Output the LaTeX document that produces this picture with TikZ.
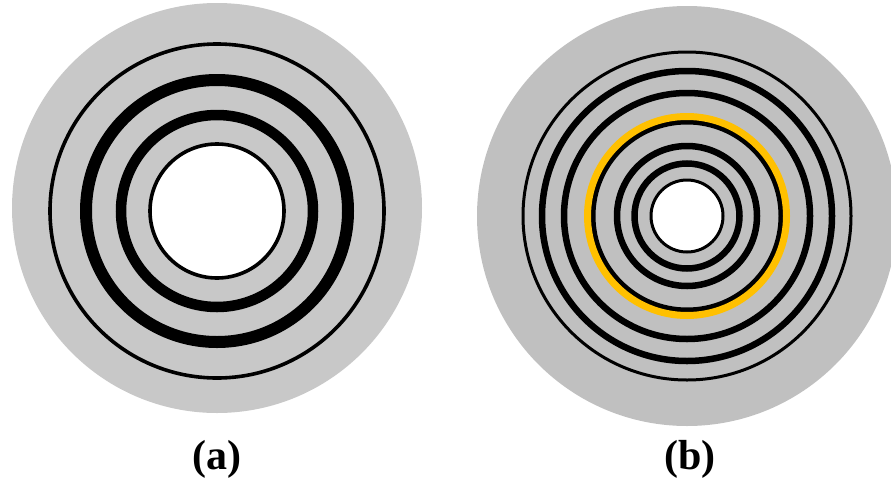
\documentclass[tikz,border=0pt]{standalone}
\usepackage{fontspec}
\setmainfont{Liberation Serif}
\definecolor{diskA}{RGB}{200,200,200}
\definecolor{diskB}{RGB}{192,192,192}
\definecolor{gold}{RGB}{255,192,0}
\begin{document}
\begin{tikzpicture}[x=1pt,y=-1pt,
  ringthin/.style={draw=black,line width=3.6pt},
  ringthick/.style={draw=black,line width=11pt},
  ringmid/.style={draw=black,line width=6.5pt},
  lbl/.style={font=\fontsize{42}{42}\selectfont\bfseries,inner sep=0pt}]
\useasboundingbox (0,0) rectangle (891,482);
\clip (0,0) rectangle (891,482);
% ---- (a) ----
\fill[diskA] (217,208) circle[radius=205];
\coordinate (ca) at (217,211);
\draw[ringthin] (ca) circle[radius=167];
\draw[ringthick,line width=12pt] (ca) circle[radius=131];
\draw[ringthick,line width=10.5pt] (ca) circle[radius=96];
\fill[white] (ca) circle[radius=67];
\draw[ringthin] (ca) circle[radius=67];
\node[lbl] (la) at (217,459) {(a)};
% ---- (b) ----
\fill[diskB] (687,216) circle[radius=210];
\coordinate (cb) at (687,216);
\draw[ringthin,line width=3pt] (cb) circle[radius=164];
\draw[ringmid] (cb) circle[radius=145];
\draw[ringmid] (cb) circle[radius=123];
\draw[ringmid,line width=7pt] (cb) circle[radius=95];
\draw[draw=gold,line width=7pt] (cb) circle[radius=99.5];
\draw[ringmid] (cb) circle[radius=70];
\draw[ringmid] (cb) circle[radius=52.5];
\fill[white] (cb) circle[radius=36];
\draw[ringthin,line width=3pt] (cb) circle[radius=36];
\node[lbl] (lb) at (690,459) {(b)};
\end{tikzpicture}
\end{document}
